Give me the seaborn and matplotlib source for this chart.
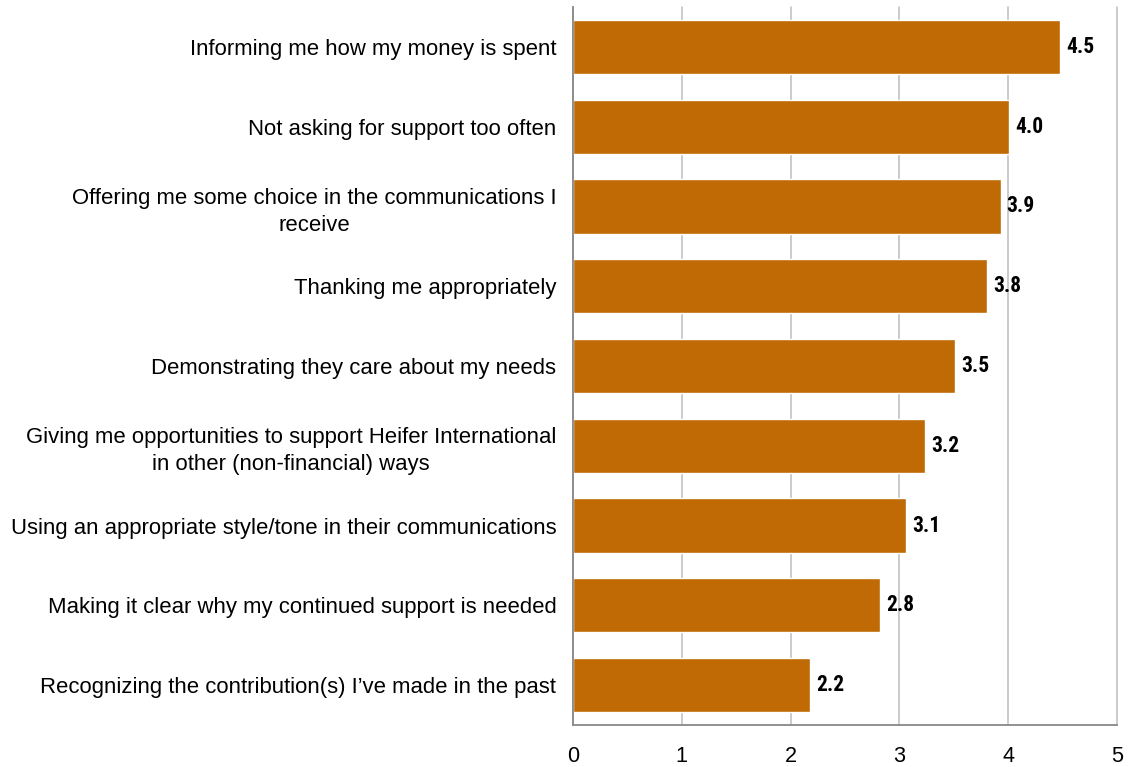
import matplotlib
matplotlib.use("Agg")
import matplotlib.pyplot as plt
import seaborn as sns
import pandas as pd
import numpy as np

categories = [
    "Informing me how my money is spent",
    "Not asking for support too often",
    "Offering me some choice in the communications I\nreceive",
    "Thanking me appropriately",
    "Demonstrating they care about my needs",
    "Giving me opportunities to support Heifer International\nin other (non-financial) ways",
    "Using an appropriate style/tone in their communications",
    "Making it clear why my continued support is needed",
    "Recognizing the contribution(s) I\u2019ve made in the past",
]
values = [4.48, 4.01, 3.93, 3.81, 3.51, 3.24, 3.06, 2.82, 2.18]
labels = ["4.5", "4.0", "3.9", "3.8", "3.5", "3.2", "3.1", "2.8", "2.2"]
x_ticks = [0, 1, 2, 3, 4, 5]

sns.set_style("white")
plt.rcParams['font.family'] = ['Liberation Sans', 'DejaVu Sans']
plt.rcParams['text.color'] = 'black'

df = pd.DataFrame({"category": categories, "value": values})

fig = plt.figure(figsize=(11.35, 7.67), dpi=100)
ax = fig.add_axes([0.5048, 0.0548, 0.9841 - 0.5048, 0.9909 - 0.0548])

sns.barplot(data=df, x="value", y="category", orient="h", color="#C06A05",
            saturation=1, width=0.68, ax=ax, zorder=2)

ax.set_xlim(0, 5)
ax.set_ylim(len(categories) - 0.5, -0.5)
ax.set_xticks(x_ticks)
ax.set_xticklabels([str(t) for t in x_ticks], fontsize=15.6)
ax.xaxis.grid(True, color="#BDBDBD", linewidth=1.1, zorder=0)
ax.yaxis.grid(False)
ax.set_axisbelow(True)
ax.set_xlabel("")
ax.set_ylabel("")
for gl in ax.get_xgridlines():
    gl.set_clip_on(False)

for s in ["top", "right"]:
    ax.spines[s].set_visible(False)
for s in ["left", "bottom"]:
    ax.spines[s].set_color("#888888")
    ax.spines[s].set_linewidth(1.3)
    ax.spines[s].set_zorder(5)

ax.set_yticks(range(len(categories)))
ax.set_yticklabels(categories, fontsize=15.9, multialignment="center", linespacing=1.35)
ax.tick_params(axis="y", which="major", length=0, pad=12, labelcolor="black")
ax.set_yticks(np.arange(-0.5, len(categories), 1.0), minor=True)
ax.tick_params(axis="y", which="minor", length=5.5, width=1.3, color="#888888", direction="out")
ax.tick_params(axis="x", which="major", length=6, width=1.3, color="#888888", direction="out",
               pad=9, labelcolor="black")

for i, (v, lab) in enumerate(zip(values, labels)):
    ax.text(v + 0.055, i, lab, va="center", ha="left", fontsize=15.5, color="black",
            fontweight="bold",
            family=["Liberation Sans Narrow", "Roboto Condensed", "Barlow Semi Condensed", "DejaVu Sans"])

fig.savefig("out.png", dpi=100)
